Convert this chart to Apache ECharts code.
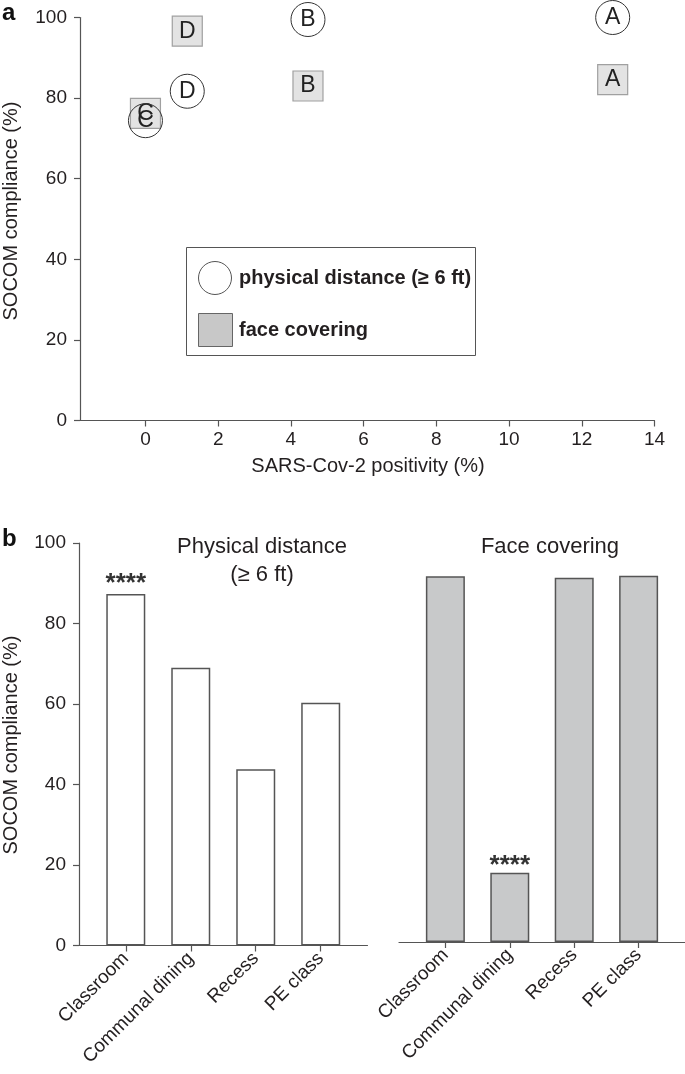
<!DOCTYPE html>
<html>
<head>
<meta charset="utf-8">
<script src="https://cdn.jsdelivr.net/npm/echarts@6/dist/echarts.min.js"></script>
<style>
html,body{margin:0;padding:0;background:#fff;}
#chart{width:685px;height:1074px;}
</style>
</head>
<body>
<div id="chart"></div>
<script>
// ---- Panel a: scatter ----
var siteLetters = ['A', 'B', 'C', 'D'];
var positivity = [12.85, 4.47, 0, 1.15];
var distanceCompliance = [100, 99.5, 74.4, 81.7];
var coveringCompliance = [84.6, 83.0, 76.2, 96.6];
var xTicksA = [0, 2, 4, 6, 8, 10, 12, 14];

// ---- Panel b: bars ----
var settings = ['Classroom', 'Communal dining', 'Recess', 'PE class'];
var distanceBars = [87.3, 69.0, 43.8, 60.3];
var coveringBars = [90.9, 17.2, 90.5, 91.0];
var distanceStars = ['****', '', '', ''];
var coveringStars = ['', '****', '', ''];

var FONT = '"Liberation Sans", Arial, Helvetica, sans-serif';
var TXT = '#231f20';
var AX = '#555';

function scatterData(ys) {
  return positivity.map(function (x, i) { return { value: [x, ys[i]], name: siteLetters[i] }; });
}
function barData(vals, stars) {
  return vals.map(function (v, i) { return { value: [i, v], star: stars[i] }; });
}

function axLine() { return { show: true, onZero: false, lineStyle: { color: AX, width: 1.2 } }; }
function ticks(extra) { return Object.assign({ show: true, length: 6, lineStyle: { color: AX, width: 1.2 } }, extra || {}); }

var chart = echarts.init(document.getElementById('chart'), null, { renderer: 'canvas' });
chart.setOption({
  animation: false,
  backgroundColor: '#fff',
  textStyle: { fontFamily: FONT },
  grid: [
    { left: 80, top: 17.5, width: 574.5, height: 403, containLabel: false },
    { left: 79, top: 543, width: 288.5, height: 402.5, containLabel: false },
    { left: 399, top: 539.5, width: 287, height: 402.5, containLabel: false }
  ],
  xAxis: [
    {
      gridIndex: 0, type: 'value', min: -1.8, max: 14,
      axisLine: axLine(), splitLine: { show: false },
      axisTick: ticks({ customValues: xTicksA }),
      axisLabel: { customValues: xTicksA, color: TXT, fontSize: 19, margin: 10, fontFamily: FONT }
    },
    {
      gridIndex: 1, type: 'value', min: -0.72, max: 3.72,
      axisLine: axLine(), splitLine: { show: false },
      axisTick: ticks({ customValues: [0, 1, 2, 3] }),
      axisLabel: {
        customValues: [0, 1, 2, 3], rotate: 45, color: TXT, fontSize: 19, margin: 10, fontFamily: FONT,
        formatter: function (v) { return settings[Math.round(v)]; }
      }
    },
    {
      gridIndex: 2, type: 'value', min: -0.72, max: 3.72,
      axisLine: axLine(), splitLine: { show: false },
      axisTick: ticks({ customValues: [0, 1, 2, 3] }),
      axisLabel: {
        customValues: [0, 1, 2, 3], rotate: 45, color: TXT, fontSize: 19, margin: 10, fontFamily: FONT,
        formatter: function (v) { return settings[Math.round(v)]; }
      }
    }
  ],
  yAxis: [
    {
      gridIndex: 0, type: 'value', min: 0, max: 100, interval: 20,
      axisLine: axLine(), splitLine: { show: false },
      axisTick: ticks(),
      axisLabel: { color: TXT, fontSize: 19, margin: 13, fontFamily: FONT }
    },
    {
      gridIndex: 1, type: 'value', min: 0, max: 100, interval: 20,
      axisLine: axLine(), splitLine: { show: false },
      axisTick: ticks(),
      axisLabel: { color: TXT, fontSize: 19, margin: 13, fontFamily: FONT }
    },
    {
      gridIndex: 2, type: 'value', min: 0, max: 100, interval: 20, show: false
    }
  ],
  series: [
    {
      name: 'face covering', type: 'scatter', xAxisIndex: 0, yAxisIndex: 0,
      symbol: 'rect', symbolSize: 30,
      itemStyle: { color: '#e3e3e3', borderColor: '#a0a0a0', borderWidth: 1.2, opacity: 1 },
      label: { show: true, position: 'inside', formatter: '{b}', color: '#222', fontSize: 23, fontFamily: FONT },
      data: scatterData(coveringCompliance), z: 2
    },
    {
      name: 'physical distance', type: 'scatter', xAxisIndex: 0, yAxisIndex: 0,
      symbol: 'circle', symbolSize: 34,
      itemStyle: { color: 'rgba(255,255,255,0)', borderColor: '#333', borderWidth: 1, opacity: 1 },
      label: { show: true, position: 'inside', formatter: '{b}', color: '#222', fontSize: 23, fontFamily: FONT },
      data: scatterData(distanceCompliance), z: 3
    },
    {
      type: 'bar', xAxisIndex: 1, yAxisIndex: 1, barWidth: 39,
      itemStyle: { color: '#fff', borderColor: AX, borderWidth: 1.5 },
      label: {
        show: true, position: 'top', distance: -3, color: '#333', fontSize: 26, fontWeight: 'bold', fontFamily: FONT,
        formatter: function (p) { return p.data.star; }
      },
      data: barData(distanceBars, distanceStars)
    },
    {
      type: 'bar', xAxisIndex: 2, yAxisIndex: 2, barWidth: 39,
      itemStyle: { color: '#c8c9ca', borderColor: AX, borderWidth: 1.5 },
      label: {
        show: true, position: 'top', distance: -6, color: '#333', fontSize: 26, fontWeight: 'bold', fontFamily: FONT,
        formatter: function (p) { return p.data.star; }
      },
      data: barData(coveringBars, coveringStars)
    }
  ],
  graphic: [
    { type: 'text', left: 2, top: 1, style: { text: 'a', font: 'bold 24px ' + FONT, fill: '#111' } },
    { type: 'text', left: 2, top: 527, style: { text: 'b', font: 'bold 24px ' + FONT, fill: '#111' } },
    { type: 'text', x: 11, y: 211, rotation: Math.PI / 2,
      style: { text: 'SOCOM compliance (%)', font: '20px ' + FONT, fill: TXT, align: 'center', verticalAlign: 'middle' } },
    { type: 'text', x: 11, y: 745, rotation: Math.PI / 2,
      style: { text: 'SOCOM compliance (%)', font: '20px ' + FONT, fill: TXT, align: 'center', verticalAlign: 'middle' } },
    { type: 'text', x: 368, y: 466,
      style: { text: 'SARS-Cov-2 positivity (%)', font: '20px ' + FONT, fill: TXT, align: 'center', verticalAlign: 'middle' } },
    { type: 'text', x: 262, y: 547,
      style: { text: 'Physical distance', font: '22px ' + FONT, fill: TXT, align: 'center', verticalAlign: 'middle' } },
    { type: 'text', x: 262, y: 575,
      style: { text: '(\u2265 6 ft)', font: '22px ' + FONT, fill: TXT, align: 'center', verticalAlign: 'middle' } },
    { type: 'text', x: 550, y: 547,
      style: { text: 'Face covering', font: '22px ' + FONT, fill: TXT, align: 'center', verticalAlign: 'middle' } },
    { type: 'rect', shape: { x: 186.5, y: 247.5, width: 289, height: 108 },
      style: { fill: 'none', stroke: '#555', lineWidth: 1 } },
    { type: 'circle', shape: { cx: 215, cy: 278, r: 16.5 },
      style: { fill: '#fff', stroke: '#555', lineWidth: 1 } },
    { type: 'rect', shape: { x: 198.5, y: 313.5, width: 34, height: 33 },
      style: { fill: '#c8c8c8', stroke: '#666', lineWidth: 1 } },
    { type: 'text', x: 239, y: 278,
      style: { text: 'physical distance (\u2265 6 ft)', font: 'bold 20px ' + FONT, fill: TXT, verticalAlign: 'middle' } },
    { type: 'text', x: 239, y: 330,
      style: { text: 'face covering', font: 'bold 20px ' + FONT, fill: TXT, verticalAlign: 'middle' } }
  ]
});
</script>
</body>
</html>
